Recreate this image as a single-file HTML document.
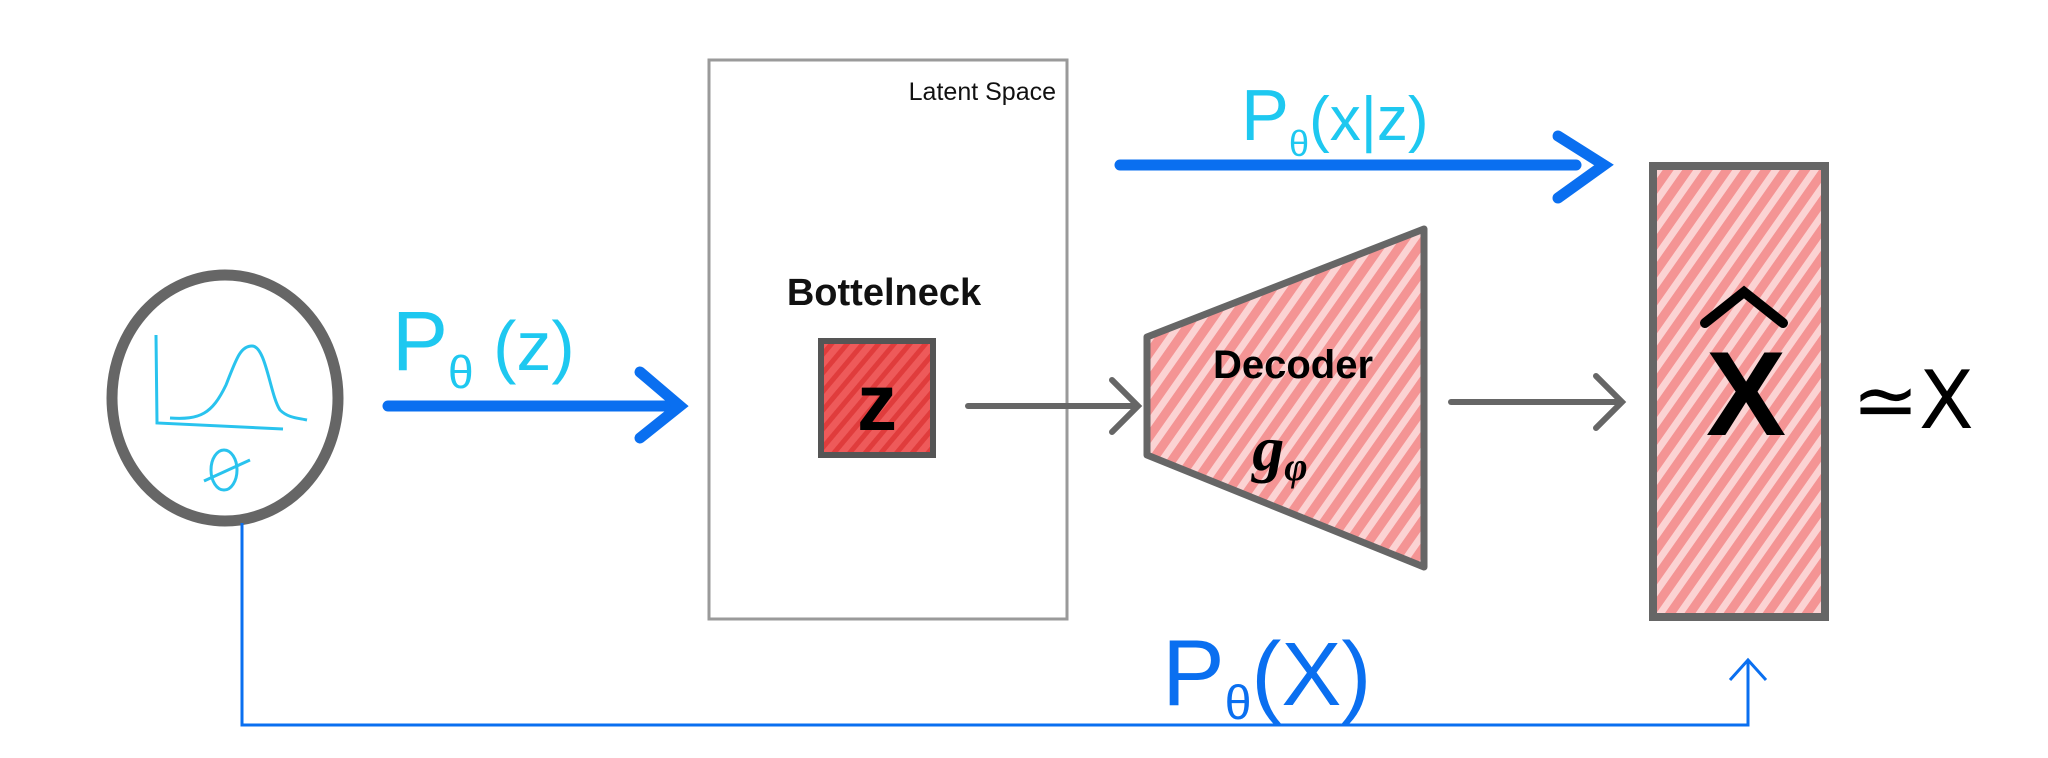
<!DOCTYPE html>
<html><head><meta charset="utf-8"><style>
html,body{margin:0;padding:0;background:#fff}
svg{display:block}
</style></head><body>
<svg width="2048" height="758" viewBox="0 0 2048 758" xmlns="http://www.w3.org/2000/svg">
<defs>
<pattern id="hatch" patternUnits="userSpaceOnUse" width="16" height="16" patternTransform="rotate(-55)">
<rect width="16" height="16" fill="#fbd3d3"/>
<line x1="0" y1="8" x2="16" y2="8" stroke="#f49494" stroke-width="9"/>
</pattern>
<pattern id="hatchred" patternUnits="userSpaceOnUse" width="12" height="12" patternTransform="rotate(-50)">
<rect width="12" height="12" fill="#ee5a5a"/>
<line x1="0" y1="6" x2="12" y2="6" stroke="#e03c3c" stroke-width="5"/>
</pattern>
</defs>
<rect width="2048" height="758" fill="#fff"/>

<g>
<ellipse cx="225" cy="398" rx="113" ry="123" fill="none" stroke="#666" stroke-width="11"/>
<path d="M156 335 L157 423 L283 429" fill="none" stroke="#29c3ee" stroke-width="3"/>
<path d="M170 418 C200 420 212 414 226 385 C236 360 240 346 252 346 C266 346 270 395 280 410 C288 418 298 418 307 420" fill="none" stroke="#29c3ee" stroke-width="3"/>
<ellipse cx="224" cy="470" rx="13" ry="20" fill="none" stroke="#29c3ee" stroke-width="3"/>
<line x1="204" y1="481" x2="250" y2="460" stroke="#29c3ee" stroke-width="3"/>
</g>

<text x="392" y="370" font-family="Liberation Sans, sans-serif" font-size="84" fill="#1ec8f0">P<tspan font-size="46" dy="18">θ</tspan><tspan dy="-18" font-size="70"> (z)</tspan></text>
<g stroke="#0a6ff0" stroke-width="11" stroke-linecap="round" fill="none">
<line x1="388" y1="406" x2="678" y2="406"/>
<polyline points="640,372 680,406 640,438"/>
</g>

<rect x="709" y="60" width="358" height="559" fill="none" stroke="#9a9a9a" stroke-width="3"/>
<text x="1056" y="100" text-anchor="end" font-family="Liberation Sans, sans-serif" font-size="25" fill="#111">Latent Space</text>
<text x="884" y="305" text-anchor="middle" font-family="Liberation Sans, sans-serif" font-weight="bold" font-size="38" fill="#111">Bottelneck</text>
<rect x="821" y="341" width="112" height="114" fill="url(#hatchred)" stroke="#555" stroke-width="6"/>
<text x="877" y="430" text-anchor="middle" font-family="Liberation Sans, sans-serif" font-weight="bold" font-size="80" fill="#000">z</text>

<g stroke="#666" stroke-width="6" stroke-linecap="round" fill="none">
<line x1="968" y1="406" x2="1136" y2="406"/>
<polyline points="1112,380 1138,406 1112,432"/>
</g>

<polygon points="1147,337 1424,229 1424,567 1147,455" fill="url(#hatch)" stroke="#666" stroke-width="7" stroke-linejoin="round"/>
<text x="1293" y="378" text-anchor="middle" font-family="Liberation Sans, sans-serif" font-weight="bold" font-size="40" fill="#000">Decoder</text>
<text x="1280" y="470" text-anchor="middle" font-family="Liberation Serif, serif" font-style="italic" font-weight="bold" font-size="64" fill="#000">g<tspan font-size="40" dy="10">φ</tspan></text>

<g stroke="#666" stroke-width="6" stroke-linecap="round" fill="none">
<line x1="1451" y1="402" x2="1620" y2="402"/>
<polyline points="1596,376 1622,402 1596,428"/>
</g>

<text x="1241" y="140" font-family="Liberation Sans, sans-serif" font-size="72" fill="#1ec8f0">P<tspan font-size="36" dy="16">θ</tspan><tspan dy="-16" font-size="62">(x|z)</tspan></text>
<g stroke="#0a6ff0" stroke-width="11" stroke-linecap="round" fill="none">
<line x1="1120" y1="165" x2="1576" y2="165"/>
<polyline points="1558,136 1604,165 1558,198"/>
</g>

<rect x="1653" y="166" width="172" height="451" fill="url(#hatch)" stroke="#666" stroke-width="8"/>
<text x="1746" y="435" text-anchor="middle" font-family="Liberation Sans, sans-serif" font-weight="bold" font-size="120" fill="#000">X</text>
<polyline points="1705,323 1744,292 1783,323" fill="none" stroke="#000" stroke-width="10" stroke-linecap="round"/>
<text x="1852" y="428" font-family="DejaVu Sans, sans-serif" font-size="80" fill="#000">≃X</text>

<g stroke="#0a6ff0" stroke-width="3" fill="none">
<polyline points="242,523 242,725 1748,725 1748,660"/>
<polyline points="1730,680 1748,660 1766,680"/>
</g>
<text x="1162" y="705" font-family="Liberation Sans, sans-serif" font-size="94" fill="#0a6ff0">P<tspan font-size="48" dy="14">θ</tspan><tspan dy="-14" font-size="90">(X)</tspan></text>
</svg>
</body></html>
